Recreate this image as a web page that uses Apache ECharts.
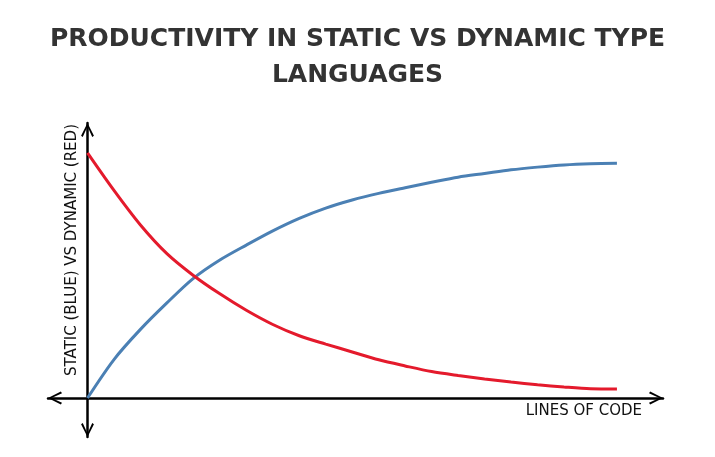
<!DOCTYPE html>
<html>
<head>
<meta charset="utf-8">
<script src="https://cdn.jsdelivr.net/npm/echarts@6/dist/echarts.min.js"></script>
<style>
html,body{margin:0;padding:0;background:#fff;}
#chart{width:715px;height:457px;}
</style>
</head>
<body>
<div id="chart"></div>
<script>
var titleText = 'PRODUCTIVITY IN STATIC VS DYNAMIC TYPE\nLANGUAGES';
var xAxisLabel = 'LINES OF CODE';
var yAxisLabel = 'STATIC (BLUE) VS DYNAMIC (RED)';
var linesOfCode = [0,0.5,1,1.5,2,2.5,3,3.5,4,4.5,5,5.5,6,6.5,7,7.5,8,8.5,9,9.5,10];
var staticValues = [0,1.57,2.80,3.88,4.88,5.63,6.24,6.82,7.33,7.75,8.08,8.35,8.58,8.80,9.01,9.16,9.31,9.42,9.51,9.56,9.58];
var dynamicValues = [10.0,8.47,7.06,5.89,5.00,4.25,3.58,3.00,2.54,2.20,1.88,1.56,1.31,1.08,0.92,0.78,0.65,0.54,0.45,0.38,0.37];

function pairs(xs, ys){ return xs.map(function(x,i){ return [x, ys[i]]; }); }

var arrowPath = 'path://M0,10 L5,0 L10,10 L8.7,10.9 L5,2.8 L1.3,10.9 Z';
var fontFam = '"DejaVu Sans", sans-serif';

var chart = echarts.init(document.getElementById('chart'), null, {renderer:'canvas'});
chart.setOption({
  animation: false,
  backgroundColor: '#ffffff',
  title: {
    text: titleText,
    left: 'center',
    top: 16,
    textStyle: { fontFamily: fontFam, fontWeight: 'bold', fontSize: 25, color: '#333333', lineHeight: 36 }
  },
  grid: { left: 48, right: 52, top: 123, bottom: 20 },
  xAxis: {
    type: 'value', min: -0.746, max: 10.87,
    axisLine: { onZero: true, symbol: [arrowPath, arrowPath], symbolSize: [13, 14], symbolOffset: [7, -7],
      lineStyle: { color: '#000', width: 2.5 } },
    axisTick: { show: false }, axisLabel: { show: false }, splitLine: { show: false }
  },
  yAxis: {
    type: 'value', min: -1.59, max: 11.22,
    axisLine: { onZero: true, symbol: [arrowPath, arrowPath], symbolSize: [13, 14], symbolOffset: [7, -7],
      lineStyle: { color: '#000', width: 2.5 } },
    axisTick: { show: false }, axisLabel: { show: false }, splitLine: { show: false }
  },
  graphic: [
    { type: 'text', x: 642, y: 411, style: { text: xAxisLabel, font: '15px "DejaVu Sans", sans-serif', fill: '#111', textAlign: 'right', textVerticalAlign: 'middle' } },
    { type: 'text', x: 72, y: 250, rotation: Math.PI / 2, style: { text: yAxisLabel, font: '15px "DejaVu Sans", sans-serif', fill: '#111', textAlign: 'center', textVerticalAlign: 'middle' } }
  ],
  series: [
    { name: 'Static', type: 'line', data: pairs(linesOfCode, staticValues), smooth: 0.3, showSymbol: false,
      lineStyle: { color: '#4b80b4', width: 3 }, z: 3 },
    { name: 'Dynamic', type: 'line', data: pairs(linesOfCode, dynamicValues), smooth: 0.3, showSymbol: false,
      lineStyle: { color: '#e41a2c', width: 3 }, z: 4 }
  ]
});
</script>
</body>
</html>
